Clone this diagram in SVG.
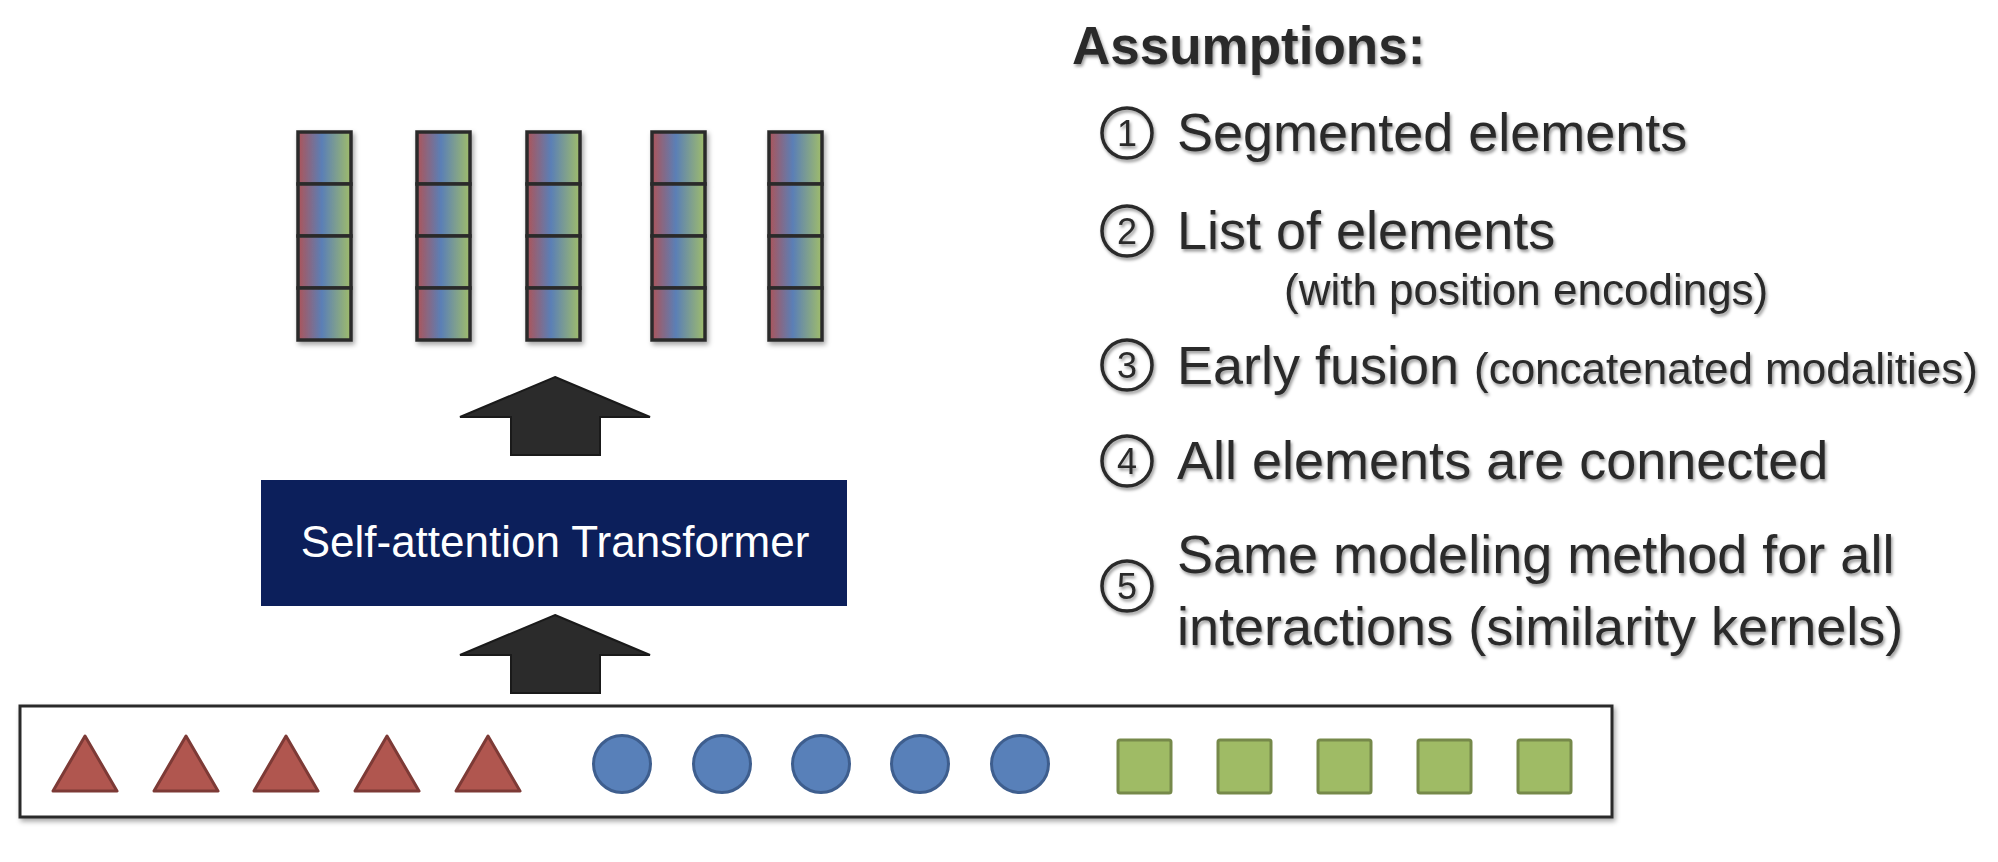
<svg xmlns="http://www.w3.org/2000/svg" width="1998" height="862" viewBox="0 0 1998 862">
<defs>
<linearGradient id="vec" x1="0" y1="0" x2="1" y2="0">
<stop offset="0" stop-color="#ad5459"/>
<stop offset="0.45" stop-color="#5a7fb6"/>
<stop offset="1" stop-color="#a0bd6a"/>
</linearGradient>
<filter id="sh" x="-20%" y="-20%" width="140%" height="140%">
<feDropShadow dx="2" dy="3" stdDeviation="2.5" flood-color="#000" flood-opacity="0.35"/>
</filter>
<filter id="tsh" x="-5%" y="-20%" width="110%" height="150%">
<feDropShadow dx="1.5" dy="2.5" stdDeviation="1.5" flood-color="#000" flood-opacity="0.4"/>
</filter>
</defs>
<style>
.cell{fill:url(#vec);stroke:#2b2b2b;stroke-width:3.5}
.txt{font-family:"Liberation Sans",Arial,sans-serif;fill:#2b2b2b}
.main{font-size:54px}
.sub{font-size:44px}
.num{fill:none;stroke:#2b2b2b;stroke-width:3.5}
.dig{font-family:"Liberation Sans",Arial,sans-serif;font-size:36px;fill:#2b2b2b;text-anchor:middle}
.tri{fill:#b0564f;stroke:#7d3a36;stroke-width:3;stroke-linejoin:round}
.circ{fill:#5880b9;stroke:#3e5e8e;stroke-width:3}
.sq{fill:#9fbb65;stroke:#76894a;stroke-width:3}
.arrow{fill:#2b2b2b;stroke:#1a1a1a;stroke-width:2}
</style>
<rect width="1998" height="862" fill="#ffffff"/>

<g id="vectors" filter="url(#sh)">
<g id="vector1">
<rect class="cell" x="298" y="132" width="53" height="52"/>
<rect class="cell" x="298" y="184" width="53" height="52"/>
<rect class="cell" x="298" y="236" width="53" height="52"/>
<rect class="cell" x="298" y="288" width="53" height="52"/>
</g>
<g id="vector2">
<rect class="cell" x="417" y="132" width="53" height="52"/>
<rect class="cell" x="417" y="184" width="53" height="52"/>
<rect class="cell" x="417" y="236" width="53" height="52"/>
<rect class="cell" x="417" y="288" width="53" height="52"/>
</g>
<g id="vector3">
<rect class="cell" x="527" y="132" width="53" height="52"/>
<rect class="cell" x="527" y="184" width="53" height="52"/>
<rect class="cell" x="527" y="236" width="53" height="52"/>
<rect class="cell" x="527" y="288" width="53" height="52"/>
</g>
<g id="vector4">
<rect class="cell" x="652" y="132" width="53" height="52"/>
<rect class="cell" x="652" y="184" width="53" height="52"/>
<rect class="cell" x="652" y="236" width="53" height="52"/>
<rect class="cell" x="652" y="288" width="53" height="52"/>
</g>
<g id="vector5">
<rect class="cell" x="769" y="132" width="53" height="52"/>
<rect class="cell" x="769" y="184" width="53" height="52"/>
<rect class="cell" x="769" y="236" width="53" height="52"/>
<rect class="cell" x="769" y="288" width="53" height="52"/>
</g>
</g>

<g id="transformer">
<rect x="261" y="480" width="586" height="126" fill="#0c1f5b"/>
<text x="555" y="557" font-family="Liberation Sans, Arial, sans-serif" font-size="44" fill="#ffffff" text-anchor="middle">Self-attention Transformer</text>
</g>

<g id="connectors">
<polygon class="arrow" points="555,377 650,417 600,417 600,455 511,455 511,417 460,417"/>
<polygon class="arrow" points="555,615 650,655 600,655 600,693 511,693 511,655 460,655"/>
</g>

<g id="input">
<rect x="20" y="706" width="1592" height="111" fill="#ffffff" stroke="#2b2b2b" stroke-width="3" filter="url(#sh)"/>
<g id="triangles">
<polygon class="tri" points="85,736 117,791 53,791"/>
<polygon class="tri" points="186,736 218,791 154,791"/>
<polygon class="tri" points="286,736 318,791 254,791"/>
<polygon class="tri" points="387,736 419,791 355,791"/>
<polygon class="tri" points="488,736 520,791 456,791"/>
</g>
<g id="circles">
<circle class="circ" cx="622" cy="764" r="28.5"/>
<circle class="circ" cx="722" cy="764" r="28.5"/>
<circle class="circ" cx="821" cy="764" r="28.5"/>
<circle class="circ" cx="920" cy="764" r="28.5"/>
<circle class="circ" cx="1020" cy="764" r="28.5"/>
</g>
<g id="squares">
<rect class="sq" x="1118" y="740" width="53" height="53" rx="2"/>
<rect class="sq" x="1218" y="740" width="53" height="53" rx="2"/>
<rect class="sq" x="1318" y="740" width="53" height="53" rx="2"/>
<rect class="sq" x="1418" y="740" width="53" height="53" rx="2"/>
<rect class="sq" x="1518" y="740" width="53" height="53" rx="2"/>
</g>
</g>

<g id="assumptions" filter="url(#tsh)">
<text class="txt" x="1072" y="64" font-size="53" font-weight="bold">Assumptions:</text>
<g id="item1">
<circle class="num" cx="1127" cy="133" r="25"/>
<text class="dig" x="1127" y="146">1</text>
<text class="txt main" x="1177" y="151">Segmented elements</text>
</g>
<g id="item2">
<circle class="num" cx="1127" cy="231" r="25"/>
<text class="dig" x="1127" y="244">2</text>
<text class="txt main" x="1177" y="249">List of elements</text>
<text class="txt sub" x="1284" y="305">(with position encodings)</text>
</g>
<g id="item3">
<circle class="num" cx="1127" cy="365" r="25"/>
<text class="dig" x="1127" y="378">3</text>
<text class="txt main" x="1177" y="384">Early fusion</text>
<text class="txt sub" x="1474" y="384">(concatenated modalities)</text>
</g>
<g id="item4">
<circle class="num" cx="1127" cy="461" r="25"/>
<text class="dig" x="1127" y="474">4</text>
<text class="txt main" x="1177" y="479">All elements are connected</text>
</g>
<g id="item5">
<circle class="num" cx="1127" cy="586" r="25"/>
<text class="dig" x="1127" y="599">5</text>
<text class="txt main" x="1177" y="573">Same modeling method for all</text>
<text class="txt main" x="1177" y="645">interactions (similarity kernels)</text>
</g>
</g>
</svg>
